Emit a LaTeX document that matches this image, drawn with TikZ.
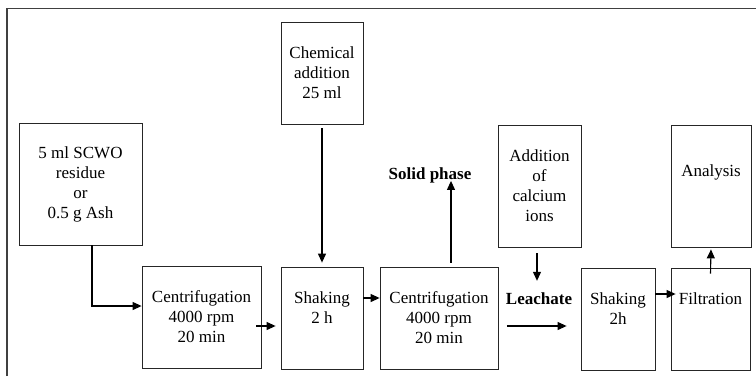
\documentclass[tikz,border=0pt]{standalone}
\usepackage{fontspec}
\setmainfont{Liberation Serif}
\usetikzlibrary{arrows.meta}
\begin{document}
\begin{tikzpicture}[x=1pt,y=-1pt,
  box/.style={draw=black!85,line width=0.8pt,rectangle,inner sep=2pt,
    align=center,font=\fontsize{17}{20}\selectfont},
  tag/.style={inner sep=2pt,font=\fontsize{17}{20}\selectfont\bfseries},
  arr/.style={line width=1.1pt,-{Triangle[length=9pt,width=8pt]}}]
\useasboundingbox (0,0) rectangle (756,376);
% frame
\draw[line width=1.3pt,black!75] (7,376) -- (7,8.5) -- (756,8.5);
% boxes
\node[box,minimum width=123pt,minimum height=122pt] (input) at (80.5,184)
  {5 ml SCWO\\residue\\or\\0.5 g Ash};
\node[box,minimum width=82pt,minimum height=102pt] (chem) at (322,73)
  {Chemical\\addition\\25 ml};
\node[box,minimum width=119pt,minimum height=102pt] (cent1) at (201.5,317)
  {Centrifugation\\4000 rpm\\20 min};
\node[box,minimum width=82pt,minimum height=102pt] (shake1) at (322,318)
  {Shaking\\2 h\\\mbox{}};
\node[box,minimum width=118pt,minimum height=102pt] (cent2) at (439,318)
  {Centrifugation\\4000 rpm\\20 min};
\node[box,minimum width=83pt,minimum height=122pt] (calc) at (539.5,186)
  {Addition\\of\\calcium\\ions};
\node[box,minimum width=74pt,minimum height=102pt] (shake2) at (618,319)
  {Shaking\\2h\\\mbox{}};
\node[box,minimum width=79pt,minimum height=102pt] (filt) at (710.5,319)
  {Filtration\\\mbox{}\\\mbox{}};
\node[box,minimum width=80pt,minimum height=122pt] (anal) at (711,186)
  {\mbox{}\\Analysis\\\mbox{}\\\mbox{}};
% labels
\node[tag] (solid) at (430,175) {Solid phase};
\node[tag] (leach) at (539,299) {Leachate};
% arrows
\draw[arr] ([xshift=11.5pt]input.south) |- ([yshift=11pt]cent1.west);
\draw[arr] ([xshift=-5pt,yshift=-9pt]cent1.east) -- ([xshift=-5pt,yshift=-8pt]shake1.west);
\draw[arr] ([yshift=-4pt]chem.south) -- ([yshift=4pt]shake1.north);
\draw[arr] ([yshift=20pt]shake1.east) -- ([yshift=20pt]cent2.west);
\draw[arr] ([xshift=12pt,yshift=4pt]cent2.north) -- ([xshift=12pt,yshift=4pt]cent2.north |- solid.south);
\draw[arr] ([xshift=-2.5pt,yshift=-6pt]calc.south) -- ([xshift=-2.5pt,yshift=10pt]calc.south |- leach.north);
\draw[arr] ([xshift=3pt,yshift=-27pt]leach.west) -- ([xshift=-14pt,yshift=-7pt]shake2.west);
\draw[arr] ([yshift=25pt]shake2.east) -- ([xshift=5pt,yshift=25pt]filt.west);
\draw[arr] ([yshift=-6pt]filt.north) -- ([yshift=-2pt]anal.south);
\end{tikzpicture}
\end{document}
